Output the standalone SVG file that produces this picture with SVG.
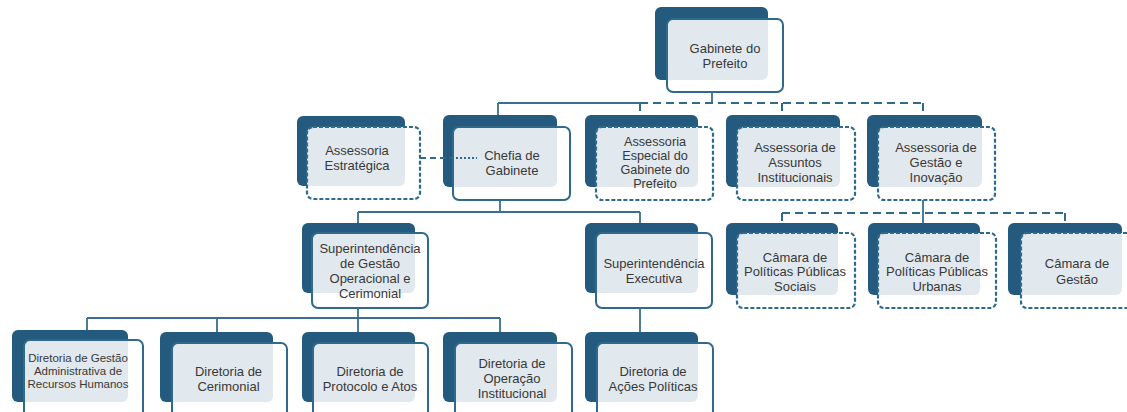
<svg xmlns="http://www.w3.org/2000/svg" width="1127" height="412" viewBox="0 0 1127 412">
<style>
.back{fill:#245a7e}
.front{fill:#ffffff;fill-opacity:.87;stroke:#2f6a8d;stroke-width:2}
.dsh{stroke-dasharray:4 2;stroke-width:2.2}
.t{font-family:"Liberation Sans",Arial,sans-serif;font-size:13px;fill:#383838;text-anchor:middle}
.sm{font-size:11.5px}
.ln{stroke:#3a6e8e;stroke-width:1.8;fill:none}
.dl{stroke:#2f6a8d;stroke-width:2;fill:none;stroke-dasharray:8 5}
.dt{stroke:#2f6a8d;stroke-width:2;fill:none;stroke-dasharray:2 2}
</style>
<rect width="1127" height="412" fill="#ffffff"/>
<g id="n-gabinete">
<rect class="back" x="655" y="7" width="113" height="73" rx="6"/>
<rect class="front" x="667" y="19" width="116" height="73" rx="6"/>
<text class="t" x="725" y="52.5">Gabinete do</text>
<text class="t" x="725" y="67.5">Prefeito</text>
</g>
<g id="n-estrategica">
<rect class="back" x="297" y="116" width="108" height="70" rx="6"/>
<rect class="front dsh" x="307" y="127" width="113" height="72" rx="6"/>
<text class="t" x="357" y="154.5">Assessoria</text>
<text class="t" x="357" y="169.5">Estratégica</text>
</g>
<g id="n-chefia">
<rect class="back" x="443" y="115" width="114" height="72" rx="6"/>
<rect class="front" x="453" y="127" width="117" height="73" rx="6"/>
<text class="t" x="512" y="159.5">Chefia de</text>
<text class="t" x="512" y="174.5">Gabinete</text>
</g>
<g id="n-especial">
<rect class="back" x="585" y="115" width="113" height="72" rx="6"/>
<rect class="front dsh" x="596" y="127" width="117" height="73" rx="6"/>
<text class="t" x="655" y="146" style="font-size:12.7px">Assessoria</text>
<text class="t" x="655" y="159.5" style="font-size:12.7px">Especial do</text>
<text class="t" x="655" y="173.5" style="font-size:12.7px">Gabinete do</text>
<text class="t" x="655" y="187.5" style="font-size:12.7px">Prefeito</text>
</g>
<g id="n-assuntos">
<rect class="back" x="726" y="115" width="114" height="72" rx="6"/>
<rect class="front dsh" x="737" y="127" width="118" height="73" rx="6"/>
<text class="t" x="795" y="151.5">Assessoria de</text>
<text class="t" x="795" y="166.5">Assuntos</text>
<text class="t" x="795" y="181.5">Institucionais</text>
</g>
<g id="n-inovacao">
<rect class="back" x="867" y="115" width="115" height="72" rx="6"/>
<rect class="front dsh" x="878" y="127" width="117" height="73" rx="6"/>
<text class="t" x="936" y="151.5">Assessoria de</text>
<text class="t" x="936" y="166.5">Gestão e</text>
<text class="t" x="936" y="181.5">Inovação</text>
</g>
<g id="n-sup-gestao">
<rect class="back" x="302" y="223" width="113" height="70" rx="6"/>
<rect class="front" x="312" y="233" width="116" height="75" rx="6"/>
<text class="t" x="370" y="252.5">Superintendência</text>
<text class="t" x="370" y="267.5">de Gestão</text>
<text class="t" x="370" y="282.5">Operacional e</text>
<text class="t" x="370" y="297.5">Cerimonial</text>
</g>
<g id="n-sup-exec">
<rect class="back" x="585" y="223" width="113" height="70" rx="6"/>
<rect class="front" x="596" y="233" width="116" height="75" rx="6"/>
<text class="t" x="654" y="267.5">Superintendência</text>
<text class="t" x="654" y="283">Executiva</text>
</g>
<g id="n-camara-sociais">
<rect class="back" x="726" y="223" width="112" height="72" rx="6"/>
<rect class="front dsh" x="737" y="233" width="118" height="75" rx="6"/>
<text class="t" x="795" y="261.5">Câmara de</text>
<text class="t" x="795" y="276">Políticas Públicas</text>
<text class="t" x="795" y="290.5">Sociais</text>
</g>
<g id="n-camara-urbanas">
<rect class="back" x="868" y="223" width="112" height="72" rx="6"/>
<rect class="front dsh" x="878" y="233" width="118" height="75" rx="6"/>
<text class="t" x="937" y="261.5">Câmara de</text>
<text class="t" x="937" y="276">Políticas Públicas</text>
<text class="t" x="937" y="290.5">Urbanas</text>
</g>
<g id="n-camara-gestao">
<rect class="back" x="1008" y="223" width="114" height="72" rx="6"/>
<rect class="front dsh" x="1021" y="233" width="118" height="75" rx="6"/>
<text class="t" x="1077" y="267.5">Câmara de</text>
<text class="t" x="1077" y="283.5">Gestão</text>
</g>
<g id="n-dir-rh">
<rect class="back" x="12" y="330" width="116" height="72" rx="6"/>
<rect class="front" x="24" y="340" width="119" height="78" rx="6"/>
<text class="t sm" x="78" y="362">Diretoria de Gestão</text>
<text class="t sm" x="78" y="375">Administrativa de</text>
<text class="t sm" x="78" y="387.5">Recursos Humanos</text>
</g>
<g id="n-dir-cerimonial">
<rect class="back" x="160" y="332" width="113" height="70" rx="6"/>
<rect class="front" x="172" y="343" width="115" height="78" rx="6"/>
<text class="t" x="228.5" y="376">Diretoria de</text>
<text class="t" x="228.5" y="391">Cerimonial</text>
</g>
<g id="n-dir-protocolo">
<rect class="back" x="302" y="332" width="113" height="70" rx="6"/>
<rect class="front" x="313" y="343" width="115" height="78" rx="6"/>
<text class="t" x="370" y="376">Diretoria de</text>
<text class="t" x="370" y="390.5">Protocolo e Atos</text>
</g>
<g id="n-dir-operacao">
<rect class="back" x="443" y="332" width="114" height="70" rx="6"/>
<rect class="front" x="455" y="343" width="117" height="78" rx="6"/>
<text class="t" x="512" y="367.5">Diretoria de</text>
<text class="t" x="512" y="382.5">Operação</text>
<text class="t" x="512" y="397.5">Institucional</text>
</g>
<g id="n-dir-acoes">
<rect class="back" x="585" y="332" width="113" height="70" rx="6"/>
<rect class="front" x="597" y="343" width="116" height="78" rx="6"/>
<text class="t" x="653" y="376">Diretoria de</text>
<text class="t" x="653" y="390.5">Ações Políticas</text>
</g>
<g id="connectors">
<path class="ln" d="M712,92 V103 M498,103 H640 M498,103 V115"/>
<path class="dl" d="M640,103 H923"/>
<path class="dl" d="M640,103 V115 M782,103 V115 M923,103 V115"/>
<path class="dl" d="M420,158 H453" style="stroke-dasharray:6 4"/>
<path class="dt" d="M456,158 H477"/>
<path class="ln" d="M500,200 V212 M358,212 H640 M358,212 V223 M640,212 V223"/>
<path class="ln" d="M358,308 V318 M87,318 H500 M87,318 V330 M217,318 V332 M358,318 V332 M500,318 V332"/>
<path class="ln" d="M640,308 V332"/>
<path class="ln" d="M923,200 V223"/>
<path class="dl" d="M782,213 H1065 M782,213 V223 M1065,213 V223"/>
</g>
</svg>
